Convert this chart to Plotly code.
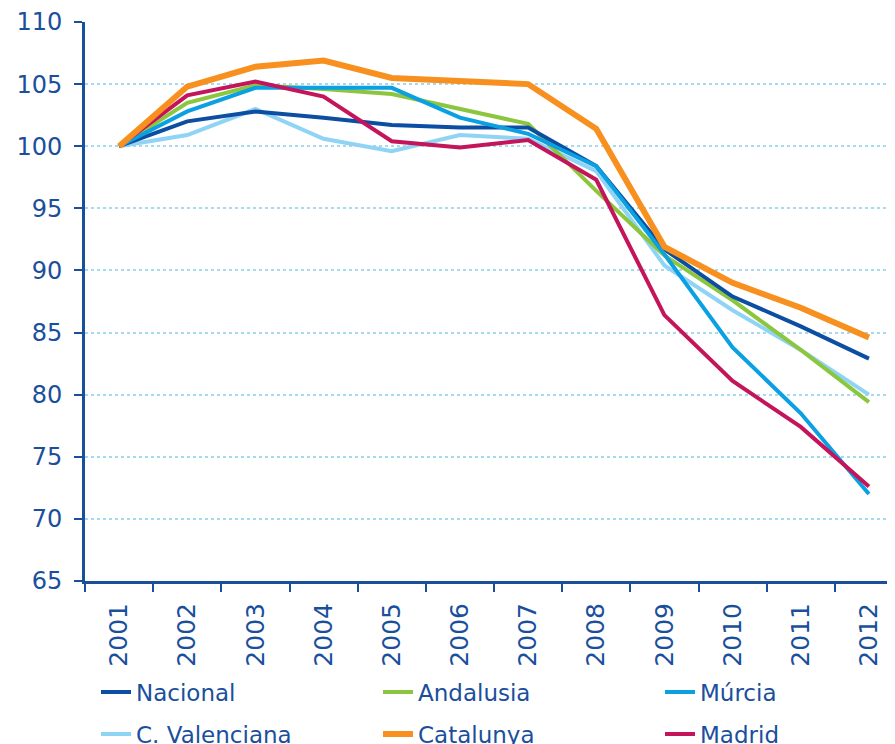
import plotly.graph_objects as go

years = ["2001", "2002", "2003", "2004", "2005", "2006",
         "2007", "2008", "2009", "2010", "2011", "2012"]

nacional = [100, 102.0, 102.8, 102.3, 101.7, 101.5, 101.5, 98.4, 91.7, 87.9, 85.5, 82.9]
andalusia = [100, 103.5, 104.9, 104.6, 104.2, 103.0, 101.8, 96.4, 91.2, 87.6, 83.6, 79.4]
murcia = [100, 102.8, 104.7, 104.7, 104.7, 102.3, 101.0, 98.4, 91.3, 83.8, 78.5, 72.0]
valenciana = [100, 100.9, 103.0, 100.6, 99.6, 100.9, 100.6, 98.0, 90.4, 86.8, 83.6, 80.0]
catalunya = [100, 104.8, 106.4, 106.9, 105.5, 105.2, 105.0, 101.4, 91.9, 89.0, 87.0, 84.6]
madrid = [100, 104.1, 105.2, 104.0, 100.4, 99.9, 100.5, 97.3, 86.4, 81.1, 77.4, 72.6]

# name, values, colour, width, legend id, legend position (px on the page)
series = [
    ("Nacional", nacional, "#0b4ea2", 4, "legend", (88, 684)),
    ("Andalusia", andalusia, "#8cc63e", 4, "legend2", (370, 684)),
    ("Múrcia", murcia, "#0aa0e2", 4, "legend3", (652, 684)),
    ("C. Valenciana", valenciana, "#8fd3f5", 4, "legend4", (88, 726)),
    ("Catalunya", catalunya, "#f7901e", 6, "legend5", (370, 726)),
    ("Madrid", madrid, "#c4145a", 4, "legend6", (652, 726)),
]

text_blue = "#1a4f9c"
W, H = 895, 744

fig = go.Figure()
# draw order: light ones first, Catalunya on top
for i in [3, 1, 0, 2, 5, 4]:
    name, vals, col, w, leg, _ = series[i]
    fig.add_trace(go.Scatter(x=years, y=vals, name=name, mode="lines",
                             line=dict(color=col, width=w), legend=leg))

legends = {}
for name, vals, col, w, leg, (px, py) in series:
    legends[leg] = dict(
        orientation="h", xref="container", yref="container",
        x=px / W, y=1 - py / H, xanchor="left", yanchor="middle",
        font=dict(family="DejaVu Sans", size=23, color=text_blue),
        bgcolor="rgba(0,0,0,0)",
    )

fig.update_layout(
    width=W, height=H,
    margin=dict(l=77, r=0, t=14, b=171),
    plot_bgcolor="white", paper_bgcolor="white",
    font=dict(family="DejaVu Sans", color=text_blue),
    showlegend=True,
    **legends,
)
fig.update_xaxes(
    type="category", tickson="boundaries", ticks="outside", ticklen=8,
    tickcolor=text_blue, tickwidth=2, showline=True, linecolor=text_blue,
    linewidth=3, showgrid=False, tickangle=-90, automargin=False,
    ticklabelstandoff=9,
    tickfont=dict(size=25, color=text_blue), range=[-0.5, 11.5],
)
fig.update_yaxes(
    range=[65, 110], dtick=5, ticks="outside", ticklen=8, tickcolor=text_blue,
    tickwidth=2, showline=True, linecolor=text_blue, linewidth=3,
    showgrid=True, gridcolor="#a6d9f2", gridwidth=2, griddash="dot",
    zeroline=False, automargin=False, ticklabelstandoff=7,
    tickfont=dict(size=24, color=text_blue),
)

fig.write_html("out.html")
